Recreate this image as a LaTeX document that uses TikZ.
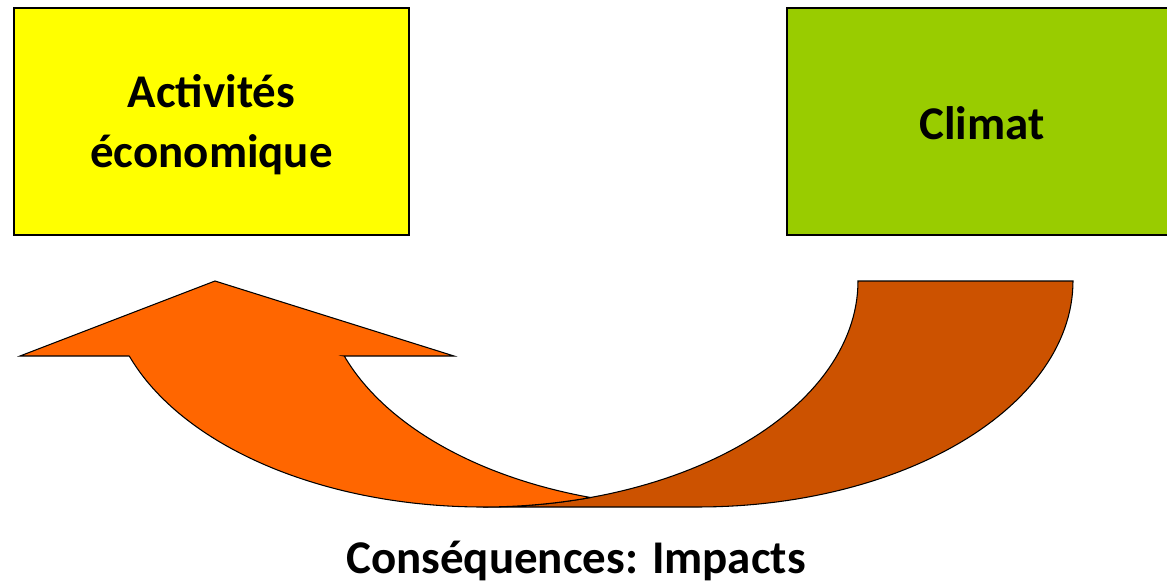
\documentclass[tikz,border=0pt]{standalone}
\usepackage{fontspec}
\setmainfont{Carlito}
\definecolor{boxyellow}{HTML}{FFFF00}
\definecolor{boxgreen}{HTML}{99CC00}
\definecolor{arrowfront}{HTML}{FF6600}
\definecolor{arrowback}{HTML}{CC5200}
\begin{document}
\begin{tikzpicture}[x=0.75pt,y=-0.75pt,
  boxstyle/.style={draw=black,line width=1.1pt,minimum height=170.25pt,inner sep=0pt},
  labelstyle/.style={inner sep=0pt,align=center,
    font=\fontsize{35.2}{44.6}\selectfont\bfseries},
  bandstyle/.style={draw=black,line width=0.8pt,line join=miter}]
\useasboundingbox (0,0) rectangle (1167,585);
\clip (0,0) rectangle (1167,585);

% boxes and their texts
\node[boxstyle,fill=boxyellow,minimum width=296.25pt] (eco) at (211.5,121.5) {};
\node[labelstyle] (ecotext) at (211.5,124.5) {Activités\\économique};
\node[boxstyle,fill=boxgreen,minimum width=292.5pt] (clim) at (982,121.5) {};
\node[labelstyle] (climtext) at (982,123.5) {Climat};

% curved arrow: two ellipses (rx 375, ry 226) centred at (483,281) and (698,281)
% back band
\draw[bandstyle,fill=arrowback]
  plot[domain=0:90,samples=60,variable=\t] ({483+375*cos(\t)},{281+226*sin(\t)})
  -- (698,507)
  -- plot[domain=90:0,samples=60,variable=\t] ({698+375*cos(\t)},{281+226*sin(\t)})
  -- cycle;
% front part with arrow head
\draw[bandstyle,fill=arrowfront]
  (129,356) -- (20,356) -- (215,281) -- (454,356) -- (344,356)
  -- plot[domain=160.6:106.66,samples=60,variable=\t] ({698+375*cos(\t)},{281+226*sin(\t)})
  -- plot[domain=73.34:160.6,samples=80,variable=\t] ({483+375*cos(\t)},{281+226*sin(\t)})
  -- cycle;

% caption
\node[labelstyle,anchor=base] (cons) at (576,573) {Conséquences: Impacts};
\end{tikzpicture}
\end{document}
